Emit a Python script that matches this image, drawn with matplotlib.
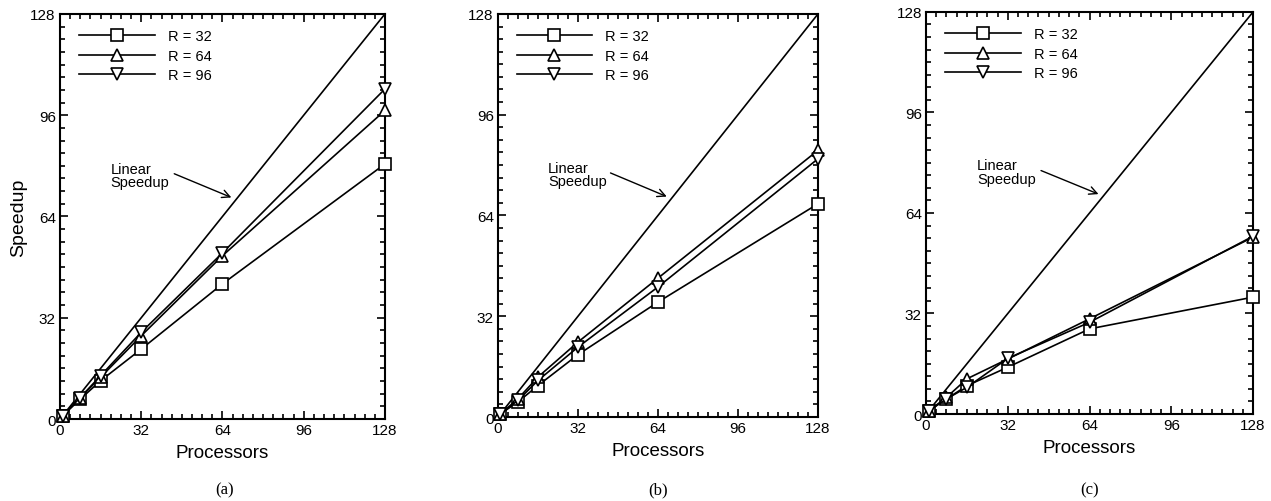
import matplotlib
matplotlib.use("Agg")
import matplotlib.pyplot as plt
from matplotlib.ticker import MultipleLocator

plt.rcParams['font.family'] = ['Liberation Sans', 'DejaVu Sans']

processors = [1, 8, 16, 32, 64, 128]
series_labels = ["R = 32", "R = 64", "R = 96"]
panel_tags = ["(a)", "(b)", "(c)"]

# Speedup per panel, one list per R value
speedup_a_r32 = [1, 6.3, 12.1, 22.1, 42.7, 80.6]
speedup_a_r64 = [1, 6.8, 13.2, 26.3, 51.6, 97.5]
speedup_a_r96 = [1, 6.8, 13.7, 27.4, 52.5, 104.3]

speedup_b_r32 = [1, 4.8, 10.0, 19.8, 36.5, 67.7]
speedup_b_r64 = [1, 5.8, 12.7, 23.8, 44.1, 84.7]
speedup_b_r96 = [1, 5.3, 11.6, 22.2, 41.3, 82.0]

speedup_c_r32 = [1, 4.8, 9.0, 14.9, 27.1, 37.2]
speedup_c_r64 = [1, 5.3, 11.2, 17.5, 30.3, 56.3]
speedup_c_r96 = [1, 4.8, 8.5, 17.7, 29.2, 56.6]

linear_x = [0, 128]
linear_y = [0, 128]

panels = [
    (speedup_a_r32, speedup_a_r64, speedup_a_r96),
    (speedup_b_r32, speedup_b_r64, speedup_b_r96),
    (speedup_c_r32, speedup_c_r64, speedup_c_r96),
]
markers = ["s", "^", "v"]

axes_rects = [
    [0.0472, 0.1633, 0.2557, 0.807],
    [0.3918, 0.1673, 0.2518, 0.803],
    [0.7286, 0.1733, 0.2573, 0.801],
]
tag_x = [225 / 1271, 658 / 1271, 1090 / 1271]

fig = plt.figure(figsize=(12.71, 5.02), dpi=100)

for i, (rect, series) in enumerate(zip(axes_rects, panels)):
    ax = fig.add_axes(rect)
    ax.plot(linear_x, linear_y, color="black", lw=1.2)
    for vals, mk, lab in zip(series, markers, series_labels):
        ax.plot(processors, vals, color="black", lw=1.2, marker=mk,
                markersize=9, markerfacecolor="white", markeredgewidth=1.2,
                label=lab, clip_on=False, zorder=3)
    ax.set_xlim(0, 128)
    ax.set_ylim(0, 128)
    ax.xaxis.set_major_locator(MultipleLocator(32))
    ax.yaxis.set_major_locator(MultipleLocator(32))
    ax.xaxis.set_minor_locator(MultipleLocator(4))
    ax.yaxis.set_minor_locator(MultipleLocator(4))
    ax.tick_params(which="both", direction="in", top=True, right=True,
                   width=1.2, labelsize=11, pad=3)
    ax.tick_params(which="major", length=6)
    ax.tick_params(which="minor", length=3.5)
    for s in ax.spines.values():
        s.set_linewidth(1.5)
    ax.set_xlabel("Processors", fontsize=13.5, labelpad=5)
    if i == 0:
        ax.set_ylabel("Speedup", fontsize=14, labelpad=2)

    ax.legend(loc="upper left", bbox_to_anchor=(0.058, 0.962),
              frameon=False, fontsize=10.5, handlelength=5.2,
              handletextpad=0.9, labelspacing=0.38, borderpad=0,
              borderaxespad=0, numpoints=1)

    ax.text(20, 77, "Linear\nSpeedup", fontsize=10.5, ha="left",
            va="center", linespacing=0.95)
    ax.annotate("", xy=(67.5, 70), xytext=(45, 77.5),
                arrowprops=dict(arrowstyle="->", color="black", lw=1.0,
                                mutation_scale=14, shrinkA=0, shrinkB=0))

    fig.text(tag_x[i], 0.024, panel_tags[i], ha="center", va="center",
             fontsize=12, family=["Liberation Serif", "DejaVu Serif"])

fig.savefig("out.png", dpi=100, facecolor="white")
